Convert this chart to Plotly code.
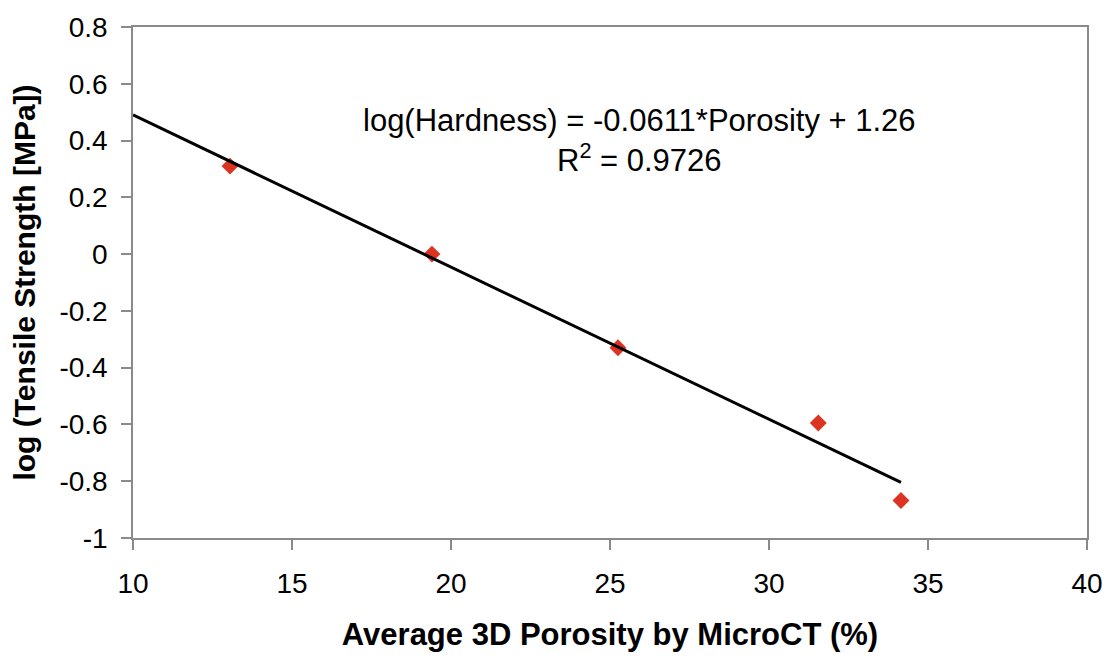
import numpy as np
import plotly.graph_objects as go

# Measured samples
porosity = [13.05, 19.4, 25.25, 31.55, 34.15]
log_tensile = [0.31, 0.0, -0.33, -0.595, -0.868]

x_ticks = [10, 15, 20, 25, 30, 35, 40]
y_ticks = [-1, -0.8, -0.6, -0.4, -0.2, 0, 0.2, 0.4, 0.6, 0.8]
y_tick_text = ["-1", "-0.8", "-0.6", "-0.4", "-0.2", "0", "0.2", "0.4", "0.6", "0.8"]

eq_line1 = "log(Hardness) = -0.0611*Porosity + 1.26"
eq_line2 = "R<sup>2</sup> = 0.9726"

# Linear least-squares trendline, extended back to the axis start
slope, intercept = np.polyfit(porosity, log_tensile, 1)
trend_x = [10, max(porosity)]
trend_y = [slope * v + intercept for v in trend_x]

FONT = "Liberation Sans, Arial, sans-serif"
AXIS_COLOR = "#8a8a8a"

fig = go.Figure()
fig.add_trace(go.Scatter(
    x=porosity, y=log_tensile, mode="markers",
    marker=dict(symbol="diamond", size=13, color="#dc3420"),
    showlegend=False,
))
fig.add_trace(go.Scatter(
    x=trend_x, y=trend_y, mode="lines",
    line=dict(color="black", width=3),
    showlegend=False,
))

# Regression equation label
fig.add_annotation(
    x=0.531, y=0.855, xref="paper", yref="paper",
    text=eq_line1 + "<br>" + eq_line2,
    showarrow=False, align="center",
    font=dict(family=FONT, size=31, color="black"),
)

fig.update_layout(
    width=1115, height=658,
    margin=dict(l=133, r=22, t=23, b=119),
    paper_bgcolor="white", plot_bgcolor="white",
    font=dict(family=FONT, color="black"),
)
fig.update_xaxes(
    range=[10, 40], tickvals=x_ticks,
    showline=True, linecolor=AXIS_COLOR, linewidth=1.5, mirror=True,
    ticks="outside", ticklen=10, tickcolor=AXIS_COLOR, tickwidth=1.5,
    showgrid=False, zeroline=False,
    tickfont=dict(family=FONT, size=28, color="black"),
    ticklabelstandoff=10,
    title=dict(text="<b>Average 3D Porosity by MicroCT (%)</b>",
               font=dict(family=FONT, size=31, color="black"), standoff=25),
)
fig.update_yaxes(
    range=[-1, 0.8], tickvals=y_ticks, ticktext=y_tick_text,
    showline=True, linecolor=AXIS_COLOR, linewidth=1.5, mirror=True,
    ticks="outside", ticklen=10, tickcolor=AXIS_COLOR, tickwidth=1.5,
    showgrid=False, zeroline=False,
    tickfont=dict(family=FONT, size=28, color="black"),
    ticklabelstandoff=8,
    title=dict(text="<b>log (Tensile Strength [MPa])</b>",
               font=dict(family=FONT, size=30, color="black"), standoff=15),
)

fig.write_html("out.html")
